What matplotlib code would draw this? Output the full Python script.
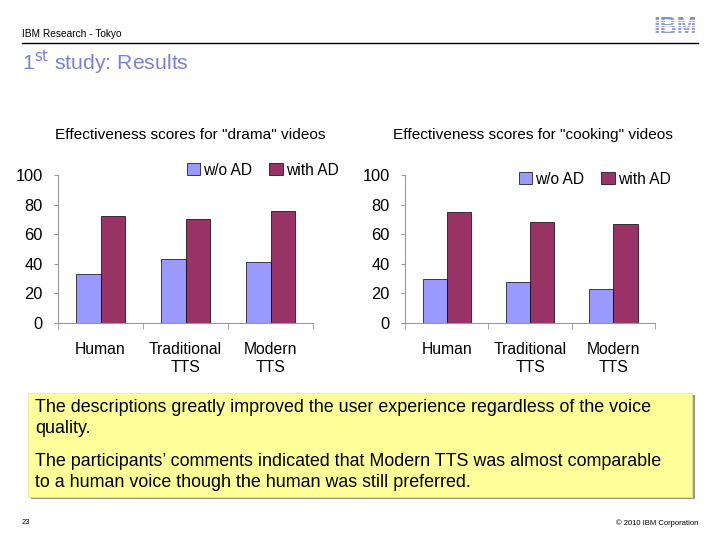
import matplotlib.pyplot as plt
from matplotlib.patches import Rectangle, Patch
from matplotlib.lines import Line2D
import numpy as np

plt.rcParams['font.family'] = ['Liberation Sans', 'DejaVu Sans']

categories = ["Human", "Traditional\nTTS", "Modern\nTTS"]
series_names = ["w/o AD", "with AD"]
drama_wo = [33, 43, 41]
drama_with = [72, 70, 76]
cooking_wo = [30, 28, 23]
cooking_with = [75, 68, 67]
y_ticks = [0, 20, 40, 60, 80, 100]

c_wo = "#9999FF"
c_with = "#993366"
W, H = 720, 540


def fx(px):
    return px / W


def fy(py):
    return 1 - py / H


def draw_chart(fig, x0, x1, title, title_x, wo, with_ad, legend_xy):
    ax = fig.add_axes([fx(x0), fy(323), fx(x1 - x0), (323 - 175) / H])
    x = np.arange(len(categories))
    bw = 0.29
    ax.bar(x - bw / 2, wo, bw, color=c_wo, edgecolor="black", linewidth=0.5)
    ax.bar(x + bw / 2, with_ad, bw, color=c_with, edgecolor="black", linewidth=0.5)
    ax.set_xlim(-0.5, len(categories) - 0.5)
    ax.set_ylim(0, 100)
    ax.set_yticks(y_ticks)
    ax.tick_params(axis="y", labelsize=11.8, length=3, pad=8, color="#999999")
    ax.set_xticks(x)
    ax.set_xticklabels(categories, fontsize=11.3, linespacing=1.2)
    ax.tick_params(axis="x", length=0, pad=14)
    # category separators on x axis
    ax.set_xticks(np.arange(len(categories) + 1) - 0.5, minor=True)
    ax.tick_params(axis="x", which="minor", length=4, color="#999999")
    for s in ["top", "right"]:
        ax.spines[s].set_visible(False)
    for s in ["left", "bottom"]:
        ax.spines[s].set_color("#999999")
        ax.spines[s].set_linewidth(0.8)
    fig.text(fx(title_x), fy(135), title, fontsize=11.1, ha="center", va="center")
    handles = [Patch(facecolor=c_wo, edgecolor="black", linewidth=0.5),
               Patch(facecolor=c_with, edgecolor="black", linewidth=0.5)]
    fig.legend(handles, series_names, loc="center left",
               bbox_to_anchor=(fx(legend_xy[0]), fy(legend_xy[1])),
               ncol=2, frameon=False, fontsize=11.2, handlelength=0.85,
               handleheight=0.85, handletextpad=0.2, columnspacing=1.1,
               borderpad=0, borderaxespad=0)
    return ax


def main():
    fig = plt.figure(figsize=(7.2, 5.4), dpi=100)

    # header
    fig.text(fx(22), fy(34), "IBM Research - Tokyo", fontsize=7.3, va="center")
    fig.add_artist(Line2D([fx(22), fx(698)], [fy(43), fy(43)], color="black", linewidth=1))
    fig.text(fx(675), fy(28), "IBM", fontsize=17, fontweight="bold", color="#7F8FD6",
             ha="center", va="center", zorder=3)
    for yy in np.arange(19.5, 38, 2.6):
        fig.add_artist(Line2D([fx(648), fx(702)], [fy(yy), fy(yy)], color="white",
                              linewidth=0.9, zorder=5))
    fig.text(fx(22), fy(63), r"1$^{\mathrm{st}}$ study: Results", fontsize=15.3,
             color="#7C80D4", va="center")

    draw_chart(fig, 58, 313, 'Effectiveness scores for "drama" videos', 190,
               drama_wo, drama_with, (187, 170))
    draw_chart(fig, 405, 655, 'Effectiveness scores for "cooking" videos', 533,
               cooking_wo, cooking_with, (519, 179))

    # note box with shadow
    fig.add_artist(Rectangle((fx(31), fy(499)), fx(664), (497 - 393) / H,
                             facecolor="#9A9A80", edgecolor="none"))
    fig.add_artist(Rectangle((fx(28), fy(497)), fx(664), (497 - 393) / H,
                             facecolor="#FFFF99", edgecolor="#E6E690", linewidth=0.5))
    fig.text(fx(35), fy(418), "The descriptions greatly improved the user experience regardless of the voice\nquality.",
             fontsize=12.9, va="center", linespacing=1.32)
    fig.text(fx(35), fy(472), "The participants\u2019 comments indicated that Modern TTS was almost comparable\nto a human voice though the human was still preferred.",
             fontsize=12.9, va="center", linespacing=1.32)

    # footer
    fig.text(fx(22), fy(523), "23", fontsize=5.5, va="center")
    fig.text(fx(698), fy(523), "\u00a9 2010 IBM Corporation", fontsize=5.5, va="center", ha="right")

    fig.savefig("out.png", dpi=100)


if __name__ == "__main__":
    main()
